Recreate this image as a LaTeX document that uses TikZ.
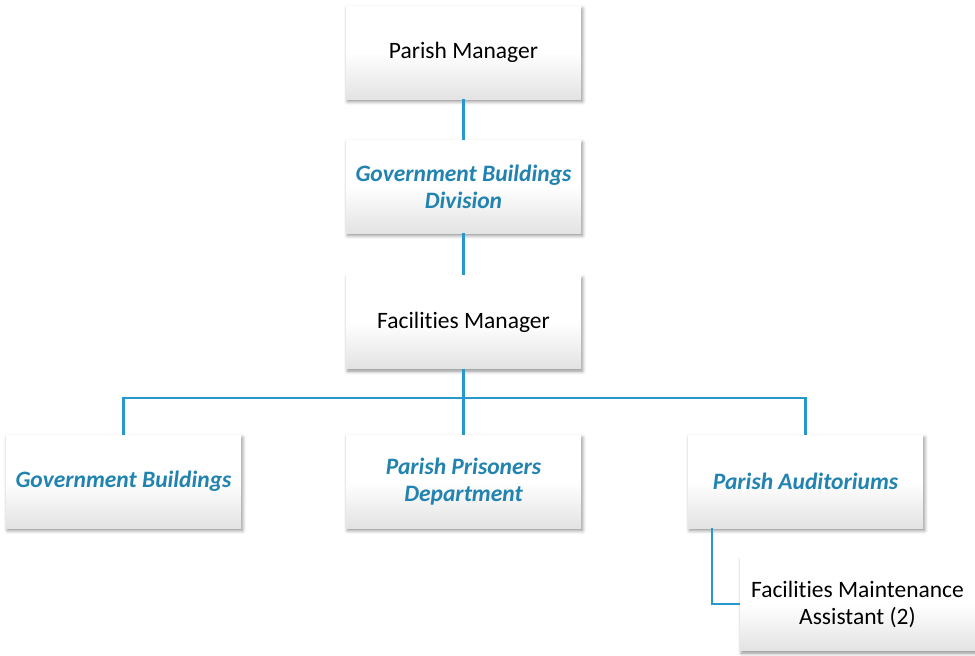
\documentclass[tikz,border=0pt]{standalone}
\usepackage{fontspec}
\setmainfont[Ligatures={NoCommon,NoRare,NoDiscretionary,NoContextual}]{Carlito}
\usetikzlibrary{shadows.blur}
\definecolor{lineblue}{RGB}{38,152,205}
\definecolor{textblue}{RGB}{33,131,176}
\begin{document}
\begin{tikzpicture}[x=1pt,y=-1pt,
  box/.style={draw=none, minimum width=235pt, minimum height=93pt, inner sep=0pt,
    top color=white, bottom color=black!11, middle color=white,
    blur shadow={shadow xshift=1.5pt, shadow yshift=-2.5pt, shadow blur radius=3.5pt, shadow opacity=45},
    align=center, font=\fontsize{23.5}{27}\selectfont},
  unit/.style={box, text=textblue, font=\fontsize{23.5}{27}\selectfont\bfseries\itshape},
  conn/.style={draw=lineblue, line width=2.3pt}]
\useasboundingbox (0,0) rectangle (975,656);
\clip (0,0) rectangle (975,656);
\node[box] (pm) at (463.5,52.5) {Parish Manager};
\node[unit] (gbd) at (463.5,186.5) {Government Buildings\\Division};
\node[box] (fm) at (463.5,322) {Facilities Manager};
\node[unit] (gb) at (123.5,481.5) {Government Buildings};
\node[unit] (pp) at (463.5,481.5) {Parish Prisoners\\Department};
\node[unit] (pa) at (805.5,481.5) {Parish Auditoriums};
\node[box] (fma) at (857.5,604) {Facilities Maintenance\\Assistant (2)};
\coordinate (bus) at (463.5,398);
\coordinate (fmaj) at (712,604);
\draw[conn] (pm.south) -- (gbd.north);
\draw[conn] (gbd.south) -- (fm.north);
\draw[conn] (fm.south) -- (bus);
\draw[conn] (gb.north) |- (bus) -| (pa.north);
\draw[conn] (bus) -- (pp.north);
\draw[conn] (pa.south -| fmaj) -- (fmaj) -- (fma.west);
\end{tikzpicture}
\end{document}
